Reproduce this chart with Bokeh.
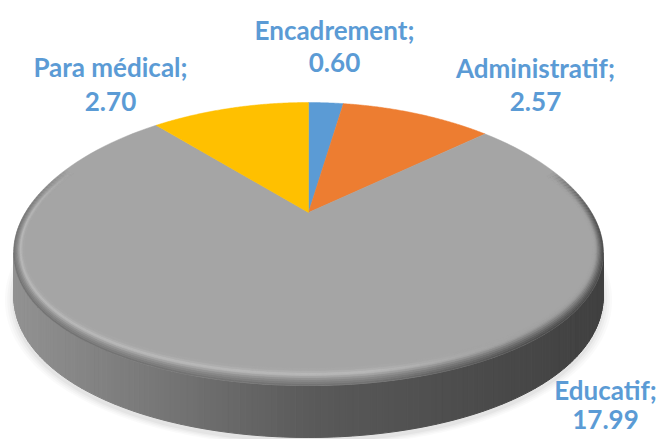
import numpy as np
from bokeh.plotting import figure
from bokeh.models import Range1d, ColumnDataSource
from bokeh.core.properties import value
from bokeh.embed import file_html
from bokeh.resources import INLINE

# ---- data ----
categories = ["Encadrement", "Administratif", "Educatif", "Para médical"]
values = [0.60, 2.57, 17.99, 2.70]
value_labels = ["0.60", "2.57", "17.99", "2.70"]
colors = ["#5B9BD5", "#ED7D31", "#A5A5A5", "#FFC000"]

# ---- layout (screen-like coordinates, y downward) ----
CX, CY = 308.0, 212.0          # pie centre (apex)
FX, KX = 283.0, 0.28           # horizontal scale / perspective
GY, KY = 134.5, 0.2227         # vertical scale / perspective
T = 40.4                       # thickness
label_x = [334, 535, 605, 110]
label_y1 = [29, 67, 389, 66]
label_y2 = [62, 101, 419, 101]

W, H = 660, 439

def proj(theta, sx=1.0, sy=1.0, drop=0.0):
    u = np.sin(theta)
    v = np.cos(theta)
    x = CX + sx * FX * u / (1 + KX * v)
    y = CY - sy * GY * v / (1 + KY * v) + drop / (1 + KY * v)
    return x, y

HALFW = FX / np.sqrt(1 - KX ** 2)
FRONT = GY / (1 - KY)

p = figure(width=W, height=H, x_range=Range1d(0, W), y_range=Range1d(H, 0),
           output_backend="svg", toolbar_location=None, min_border=0,
           outline_line_color=None, background_fill_color="white")
p.axis.visible = False
p.grid.visible = False

def gray(g):
    g = int(max(0, min(255, round(g))))
    return "#%02x%02x%02x" % (g, g, g)

# soft shadow
th = np.linspace(0, 2 * np.pi, 300)
for i, a in enumerate([0.018, 0.022, 0.028, 0.035]):
    sc = 1.03 - i * 0.008
    xs, ys = proj(th, sc, sc, T + 3)
    p.patch(xs, ys, fill_color="black", fill_alpha=a, line_color=None)

# side (front half), gradient strips
ts = np.arccos(-KX)
th_side = np.linspace(ts, 2 * np.pi - ts, 161)
sxs, sys_, scol = [], [], []
for i in range(len(th_side) - 1):
    a0, a1 = th_side[i], th_side[i + 1]
    x0, y0 = proj(a0)
    x1, y1 = proj(a1)
    x0b, y0b = proj(a0, drop=T)
    x1b, y1b = proj(a1, drop=T)
    t = ((x0 + x1) / 2 - CX) / HALFW
    g = 90 + (-t) * 56 if t < 0 else 90 - t * 26
    sxs.append([x0, x1, x1b, x0b])
    sys_.append([y0, y1, y1b, y0b])
    scol.append(gray(g))
p.patches(sxs, sys_, fill_color=scol, line_color=scol, line_width=1)

# top face slices
total = sum(values)
cum = np.cumsum([0] + values) / total * 2 * np.pi
pxs, pys = [], []
for i in range(len(values)):
    tt = np.linspace(cum[i], cum[i + 1], 120)
    x, y = proj(tt)
    pxs.append([CX] + list(x))
    pys.append([CY] + list(y))
p.patches(pxs, pys, fill_color=colors, line_color=colors, line_width=0.5)

# bevel band along front rim
prof_d = [0, 2, 4, 6, 8, 10, 11.5, 13, 15, 17]
prof_g = [0x6e, 0x78, 0x82, 0x8c, 0x9a, 0xae, 0xbd, 0xb4, 0xa9, 0xa5]
dark_g = [0x48, 0x52, 0x5e, 0x6c, 0x7c, 0x8c, 0x98, 0x9f, 0xa3, 0xa5]
lo, hi = np.radians(70), np.radians(290)
th_b = np.linspace(lo, hi, 181)
bxs, bys, bcol, balpha = [], [], [], []
for k in range(len(prof_d) - 1):
    d0, d1 = prof_d[k], prof_d[k + 1]
    s0 = (1 - 0.62 * d0 / HALFW, 1 - d0 / FRONT)
    s1 = (1 - 0.62 * d1 / HALFW, 1 - d1 / FRONT)
    xo, yo = proj(th_b, *s0)
    xi, yi = proj(th_b, *s1)
    for j in range(len(th_b) - 1):
        t = ((xo[j] + xo[j + 1]) / 2 - CX) / HALFW
        m = min(1.0, max(0.0, (t - 0.2) / 0.6))
        g = (prof_g[k] + prof_g[k + 1]) / 2 * (1 - m) + (dark_g[k] + dark_g[k + 1]) / 2 * m
        edge = min(th_b[j] - lo, hi - th_b[j])
        alpha = min(1.0, edge / np.radians(30))
        bxs.append([xo[j], xo[j + 1], xi[j + 1], xi[j]])
        bys.append([yo[j], yo[j + 1], yi[j + 1], yi[j]])
        bcol.append(gray(g))
        balpha.append(alpha)
p.patches(bxs, bys, fill_color=bcol, fill_alpha=balpha, line_color=bcol,
          line_alpha=balpha, line_width=0.6)

# labels
src = ColumnDataSource(dict(x=label_x, y1=label_y1, y2=label_y2,
                            t1=[c + ";" for c in categories], t2=value_labels))
for ycol, tcol in (("y1", "t1"), ("y2", "t2")):
    p.text(x="x", y=ycol, text=tcol, source=src, text_font=value("Lato"),
           text_font_style="bold", text_font_size="26px", text_color="#5B9BD5",
           text_align="center", text_baseline="middle")

open("out.html", "w").write(file_html(p, INLINE))
